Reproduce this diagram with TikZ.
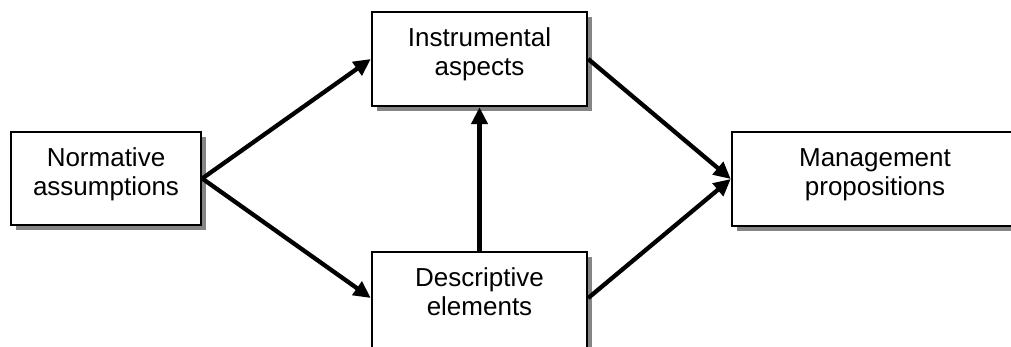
\documentclass[tikz,border=0pt]{standalone}
\usepackage{fontspec}
\setmainfont{Liberation Sans}
\usetikzlibrary{arrows.meta,shadows}

\tikzset{
  block/.style={draw=black, fill=white, line width=2.4pt, inner sep=0pt,
    drop shadow={shadow xshift=5pt, shadow yshift=-5pt, fill=black!48, opacity=1}},
  lineA/.style={anchor=base, inner sep=0pt, font=\fontsize{26}{29}\selectfont},
  flow/.style={line width=4.3pt, -{Triangle[length=17pt,width=16pt]}},
}

\begin{document}
\begin{tikzpicture}[x=1pt,y=-1pt]
  \clip (0,0) rectangle (1011,346);
  \useasboundingbox (0,0) rectangle (1011,346);

  % boxes
  \node[block, minimum width=190pt, minimum height=93pt] (norm) at (106,178.5) {};
  \node[block, minimum width=215pt, minimum height=94pt] (instr) at (479.5,59) {};
  \node[block, minimum width=215pt, minimum height=110pt] (desc) at (479.5,307) {};
  \node[block, minimum width=286pt, minimum height=94pt] (mgmt) at (875,179) {};
  \coordinate (descL) at ([yshift=9pt]desc.west);
  \coordinate (descR) at ([yshift=9pt]desc.east);

  % two-line labels, placed by baseline
  \node[lineA] (normA) at ([yshift=12.5pt]norm.center) {Normative};
  \node[lineA] (normB) at ([yshift=-16.5pt]norm.center) {assumptions};
  \node[lineA] (instrA) at ([yshift=12.5pt]instr.center) {Instrumental};
  \node[lineA] (instrB) at ([yshift=-16.5pt]instr.center) {aspects};
  \node[lineA] (descA) at ([yshift=20.5pt]desc.center) {Descriptive};
  \node[lineA] (descB) at ([yshift=-8.5pt]desc.center) {elements};
  \node[lineA] (mgmtA) at ([yshift=12.5pt]mgmt.center) {Management};
  \node[lineA] (mgmtB) at ([yshift=-16.5pt]mgmt.center) {propositions};

  % connectors
  \draw[flow] (norm.east) -- (instr.west);
  \draw[flow] (norm.east) -- (descL);
  \draw[flow] (desc.north) -- (instr.south);
  \draw[flow] (instr.east) -- (mgmt.west);
  \draw[flow] (descR) -- (mgmt.west);
\end{tikzpicture}
\end{document}
